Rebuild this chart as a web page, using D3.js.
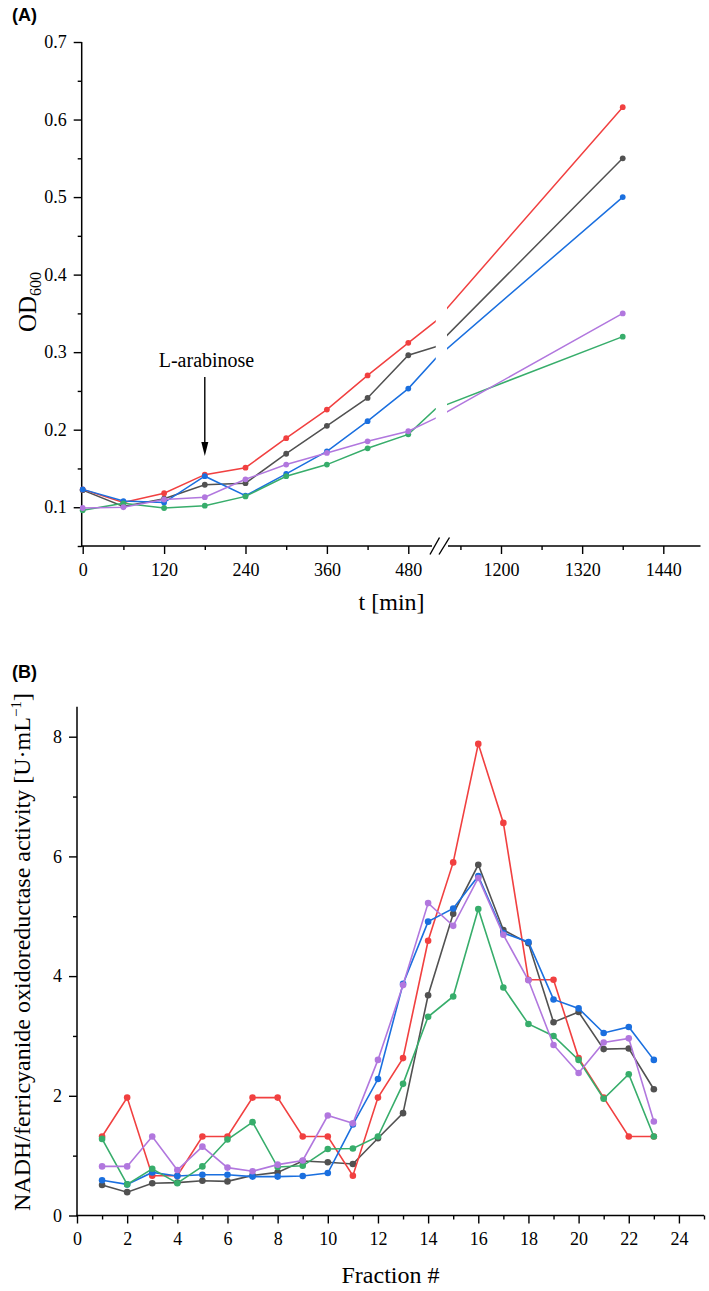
<!DOCTYPE html>
<html><head><meta charset="utf-8">
<script src="https://cdn.jsdelivr.net/npm/d3@7"></script>
<style>body{margin:0;background:#fff}svg{display:block}</style>
</head><body>
<svg id="c" width="709" height="1291"></svg>
<script>
// ---------- Panel A data ----------
const timesA = [0, 60, 120, 180, 240, 300, 360, 420, 480, 540, 1380];
const odGrey   = [0.122, 0.101, 0.111, 0.129, 0.131, 0.169, 0.205, 0.241, 0.296, 0.307, 0.550];
const odRed    = [0.123, 0.106, 0.118, 0.142, 0.151, 0.189, 0.226, 0.270, 0.312, 0.340, 0.616];
const odBlue   = [0.123, 0.108, 0.106, 0.140, 0.115, 0.143, 0.172, 0.211, 0.253, 0.292, 0.500];
const odGreen  = [0.096, 0.105, 0.099, 0.102, 0.114, 0.140, 0.155, 0.176, 0.194, 0.227, 0.320];
const odPurple = [0.099, 0.100, 0.110, 0.113, 0.136, 0.155, 0.170, 0.185, 0.198, 0.215, 0.350];
const xMajorA1 = [0, 120, 240, 360, 480];
const xMinorA1 = [60, 180, 300, 420];
const xMajorA2 = [1200, 1320, 1440];
const xMinorA2 = [1140, 1260, 1380];
const yMajorA = [0.1, 0.2, 0.3, 0.4, 0.5, 0.6, 0.7];
const yMinorA = [0.05, 0.15, 0.25, 0.35, 0.45, 0.55, 0.65];
const breakA = [520, 1120];

// ---------- Panel B data ----------
const fractions = d3.range(1, 24);
const actGrey   = [0.51, 0.39, 0.54, 0.55, 0.58, 0.57, 0.67, 0.72, 0.91, 0.89, 0.86, 1.29, 1.71, 3.68, 5.04, 5.86, 4.77, 4.55, 3.23, 3.40, 2.78, 2.79, 2.11];
const actRed    = [1.32, 1.97, 0.665, 0.665, 1.32, 1.32, 1.97, 1.97, 1.32, 1.32, 0.665, 1.97, 2.63, 4.59, 5.90, 7.88, 6.56, 3.94, 3.94, 2.63, 1.97, 1.32, 1.32];
const actBlue   = [0.59, 0.52, 0.72, 0.66, 0.68, 0.68, 0.65, 0.65, 0.66, 0.71, 1.52, 2.28, 3.87, 4.91, 5.13, 5.67, 4.72, 4.57, 3.61, 3.46, 3.05, 3.15, 2.60];
const actGreen  = [1.28, 0.52, 0.78, 0.54, 0.82, 1.27, 1.56, 0.81, 0.83, 1.11, 1.12, 1.32, 2.20, 3.32, 3.66, 5.12, 3.81, 3.20, 3.00, 2.60, 1.95, 2.36, 1.32];
const actPurple = [0.82, 0.82, 1.32, 0.76, 1.15, 0.80, 0.74, 0.85, 0.92, 1.67, 1.54, 2.60, 3.85, 5.22, 4.84, 5.64, 4.69, 3.93, 2.85, 2.38, 2.89, 2.96, 1.57];
const xMajorB = d3.range(0, 25, 2);
const xMinorB = d3.range(1, 26, 2);
const yMajorB = [0, 2, 4, 6, 8];
const yMinorB = [1, 3, 5, 7];

const colors = ["#515151", "#F14040", "#1A6FDF", "#37AD6B", "#B177DE"];
const seriesA = [odGrey, odRed, odBlue, odGreen, odPurple];
const seriesB = [actGrey, actRed, actBlue, actGreen, actPurple];

const serif = "'Liberation Serif','Times New Roman',serif";
const svg = d3.select("#c");

function styleAxis(g, fs) {
  g.select(".domain").remove();
  g.selectAll("line").attr("stroke", "#000").attr("stroke-width", 1.4);
  g.selectAll("text").attr("font-family", serif).attr("font-size", fs).attr("fill", "#000");
}

// ================= PANEL A =================
const yA = d3.scaleLinear().domain([0.05, 0.7]).range([546, 42]);
const s1 = d3.scaleLinear().domain([0, breakA[0]]).range([82.7, 82.7 + 520 * 0.6783]);
const s2 = d3.scaleLinear().domain([1200, 1440]).range([501, 663.3]);
const gapL = s1(breakA[0]), gapR = s2(breakA[1]);
function xA(t) {
  if (t <= breakA[0]) return s1(t);
  if (t >= breakA[1]) return s2(t);
  return gapL + (t - breakA[0]) / (breakA[1] - breakA[0]) * (gapR - gapL);
}
const xEndA = s2(1495);

const gA = svg.append("g");
const axA1 = gA.append("g").attr("transform", "translate(0,546)")
  .call(d3.axisBottom(s1).tickValues(xMajorA1).tickSize(8).tickPadding(9).tickFormat(d3.format("d")));
styleAxis(axA1, 18);
const axA1m = gA.append("g").attr("transform", "translate(0,546)")
  .call(d3.axisBottom(s1).tickValues(xMinorA1).tickSize(4).tickFormat(""));
styleAxis(axA1m, 18);
const axA2 = gA.append("g").attr("transform", "translate(0,546)")
  .call(d3.axisBottom(s2).tickValues(xMajorA2).tickSize(8).tickPadding(9).tickFormat(d3.format("d")));
styleAxis(axA2, 18);
const axA2m = gA.append("g").attr("transform", "translate(0,546)")
  .call(d3.axisBottom(s2).tickValues(xMinorA2).tickSize(4).tickFormat(""));
styleAxis(axA2m, 18);
const ayA = gA.append("g").attr("transform", "translate(81.7,0)")
  .call(d3.axisLeft(yA).tickValues(yMajorA).tickSize(8).tickPadding(7).tickFormat(d3.format(".1f")));
styleAxis(ayA, 18);
const ayAm = gA.append("g").attr("transform", "translate(81.7,0)")
  .call(d3.axisLeft(yA).tickValues(yMinorA).tickSize(4).tickFormat(""));
styleAxis(ayAm, 18);
gA.append("line").attr("x1", 81.7).attr("x2", 81.7).attr("y1", yA(0.7)).attr("y2", 546.7)
  .attr("stroke", "#000").attr("stroke-width", 1.5);
gA.append("line").attr("x1", 81).attr("x2", 432).attr("y1", 546).attr("y2", 546)
  .attr("stroke", "#000").attr("stroke-width", 1.5);
gA.append("line").attr("x1", 448).attr("x2", xEndA).attr("y1", 546).attr("y2", 546)
  .attr("stroke", "#000").attr("stroke-width", 1.5);
[[430, 439.5], [439, 449.5]].forEach(([a, b]) => {
  gA.append("line").attr("x1", a).attr("y1", 554.5).attr("x2", b).attr("y2", 537.5)
    .attr("stroke", "#000").attr("stroke-width", 1.4);
});

const defs = svg.append("defs");
defs.append("clipPath").attr("id", "clipA1").append("rect")
  .attr("x", 0).attr("y", 0).attr("width", 435.8).attr("height", 600);
defs.append("clipPath").attr("id", "clipA2").append("rect")
  .attr("x", 446.9).attr("y", 0).attr("width", 300).attr("height", 600);

const lineA = d3.line().x(d => xA(d[0])).y(d => yA(d[1]));
seriesA.forEach((vals, i) => {
  const pts = timesA.map((t, j) => [t, vals[j]]);
  ["clipA1", "clipA2"].forEach(cid => {
    gA.append("path").attr("d", lineA(pts)).attr("fill", "none")
      .attr("stroke", colors[i]).attr("stroke-width", 1.5).attr("clip-path", `url(#${cid})`);
  });
  gA.selectAll(null).data(pts.filter(p => p[0] <= breakA[0] || p[0] >= breakA[1])).enter()
    .append("circle").attr("cx", d => xA(d[0])).attr("cy", d => yA(d[1])).attr("r", 2.9)
    .attr("fill", colors[i]);
});

gA.append("text").attr("x", 12).attr("y", 21).text("(A)")
  .attr("font-family", "'Liberation Sans',Arial,sans-serif").attr("font-weight", "bold").attr("font-size", 18);
const odT = gA.append("text").attr("transform", "translate(36,302) rotate(-90)")
  .attr("text-anchor", "middle").attr("font-family", serif).attr("font-size", 25);
odT.append("tspan").text("OD");
odT.append("tspan").text("600").attr("font-size", 16).attr("dy", 5);
gA.append("text").attr("x", (82.7 + xEndA) / 2).attr("y", 610).attr("text-anchor", "middle")
  .attr("font-family", serif).attr("font-size", 24).text("t [min]");

gA.append("text").attr("x", 206.5).attr("y", 367).attr("text-anchor", "middle")
  .attr("font-family", serif).attr("font-size", 20).text("L-arabinose");
gA.append("line").attr("x1", xA(180)).attr("x2", xA(180)).attr("y1", 377).attr("y2", 444)
  .attr("stroke", "#000").attr("stroke-width", 1.4);
gA.append("path").attr("d", `M${xA(180) - 3.5},442 L${xA(180) + 3.5},442 L${xA(180)},456 Z`).attr("fill", "#000");

// ================= PANEL B =================
const xB = d3.scaleLinear().domain([0, 25]).range([77, 704]);
const yB = d3.scaleLinear().domain([0, 8.5]).range([1215.5, 1215.5 - 8.5 * 59.85]);
const gB = svg.append("g");
const axB = gB.append("g").attr("transform", "translate(0,1215.5)")
  .call(d3.axisBottom(xB).tickValues(xMajorB).tickSize(8).tickPadding(9).tickFormat(d3.format("d")));
styleAxis(axB, 18);
const axBm = gB.append("g").attr("transform", "translate(0,1215.5)")
  .call(d3.axisBottom(xB).tickValues(xMinorB).tickSize(4).tickFormat(""));
styleAxis(axBm, 18);
const ayB = gB.append("g").attr("transform", "translate(77,0)")
  .call(d3.axisLeft(yB).tickValues(yMajorB).tickSize(8).tickPadding(7).tickFormat(d3.format("d")));
styleAxis(ayB, 18);
const ayBm = gB.append("g").attr("transform", "translate(77,0)")
  .call(d3.axisLeft(yB).tickValues(yMinorB).tickSize(4).tickFormat(""));
styleAxis(ayBm, 18);
gB.append("line").attr("x1", 77).attr("x2", 77).attr("y1", yB(8.5)).attr("y2", 1216.2)
  .attr("stroke", "#000").attr("stroke-width", 1.5);
gB.append("line").attr("x1", 76.3).attr("x2", 704).attr("y1", 1215.5).attr("y2", 1215.5)
  .attr("stroke", "#000").attr("stroke-width", 1.5);

const lineB = d3.line().x(d => xB(d[0])).y(d => yB(d[1]));
seriesB.forEach((vals, i) => {
  const pts = fractions.map((f, j) => [f, vals[j]]);
  gB.append("path").attr("d", lineB(pts)).attr("fill", "none")
    .attr("stroke", colors[i]).attr("stroke-width", 1.6);
  gB.selectAll(null).data(pts).enter().append("circle")
    .attr("cx", d => xB(d[0])).attr("cy", d => yB(d[1])).attr("r", 3.3).attr("fill", colors[i]);
});

gB.append("text").attr("x", 12).attr("y", 678).text("(B)")
  .attr("font-family", "'Liberation Sans',Arial,sans-serif").attr("font-weight", "bold").attr("font-size", 18);
gB.append("text").attr("x", 390.5).attr("y", 1283).attr("text-anchor", "middle")
  .attr("font-family", serif).attr("font-size", 24).text("Fraction #");
const yT = gB.append("text").attr("transform", "translate(30,952) rotate(-90)")
  .attr("text-anchor", "middle").attr("font-family", serif).attr("font-size", 24);
yT.append("tspan").text("NADH/ferricyanide oxidoreductase activity [U·mL");
yT.append("tspan").text("−1").attr("font-size", 15).attr("dy", -9);
yT.append("tspan").text("]").attr("dy", 9);
</script>
</body></html>
